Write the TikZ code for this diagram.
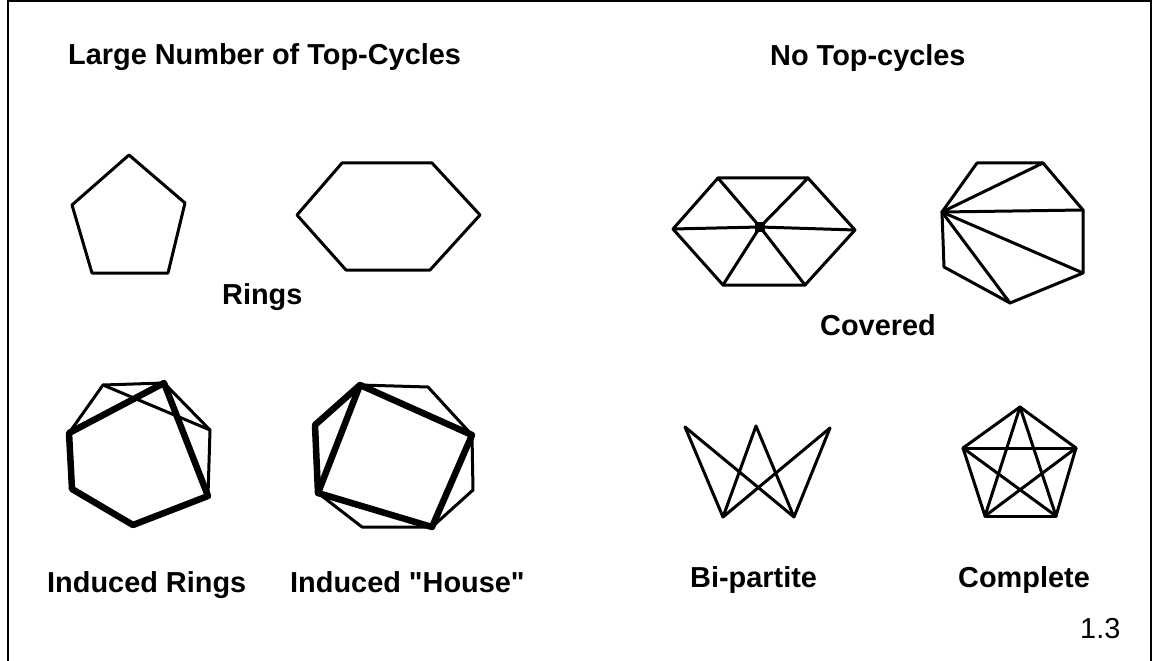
\documentclass[tikz,border=0pt]{standalone}
\usepackage{fontspec}
\setmainfont{Liberation Sans}[Ligatures=TeXOff]
\begin{document}
\begin{tikzpicture}[x=1bp,y=-1bp,
  edge/.style={line width=3bp, line join=round, line cap=round},
  bold edge/.style={line width=6.5bp, line join=round, line cap=round},
  lbl/.style={font=\bfseries\fontsize{29}{33}\selectfont, inner sep=0pt, anchor=base west},
  num/.style={font=\fontsize{29}{33}\selectfont, inner sep=0pt, anchor=base west}]
\useasboundingbox (0,0) rectangle (1159,661);
\coordinate (f1) at (8,661); \coordinate (f2) at (8,1);
\coordinate (f3) at (1151,1); \coordinate (f4) at (1151,661);
\draw[line width=2bp] (f1) -- (f2) -- (f3) -- (f4);

% titles
\node[lbl] (t1) at (68,65) {Large Number of Top-Cycles};
\node[lbl] (t2) at (770,66) {No Top-cycles};
\node[lbl] (rings) at (222,304) {Rings};
\node[lbl] (covered) at (820,335) {Covered};
\node[lbl] (ir) at (47,592) {Induced Rings};
\node[lbl] (ih) at (290,592) {Induced "House"};
\node[lbl] (bp) at (690,587) {Bi-partite};
\node[lbl] (cp) at (958,587) {Complete};
\node[num] (n13) at (1080,638) {1.3};

% pentagon ring
\coordinate (p1) at (129,155); \coordinate (p2) at (185,203);
\coordinate (p3) at (168,273); \coordinate (p4) at (92,273);
\coordinate (p5) at (72,205);
\draw[edge] (p1) -- (p2) -- (p3) -- (p4) -- (p5) -- cycle;

% hexagon ring
\coordinate (h1) at (342,163); \coordinate (h2) at (432,163);
\coordinate (h3) at (480,215); \coordinate (h4) at (430,270);
\coordinate (h5) at (346,270); \coordinate (h6) at (297,215);
\draw[edge] (h1) -- (h2) -- (h3) -- (h4) -- (h5) -- (h6) -- cycle;

% induced rings
\coordinate (a) at (103,385); \coordinate (b) at (164,383);
\coordinate (c) at (210,430); \coordinate (d) at (208,496);
\coordinate (e) at (133,525); \coordinate (f) at (72,489);
\coordinate (g) at (69,433);
\draw[edge] (g) -- (a) -- (b) -- (c) -- (d);
\draw[edge] (a) -- (c);
\draw[bold edge] (g) -- (b) -- (d) -- (e) -- (f) -- cycle;

% induced house
\coordinate (q1) at (360,385); \coordinate (q2) at (428,387);
\coordinate (q3) at (472,435); \coordinate (q4) at (473,490);
\coordinate (q5) at (432,527); \coordinate (q6) at (362,527);
\coordinate (q7) at (318,493); \coordinate (q8) at (315,425);
\draw[edge] (q1) -- (q2) -- (q3) -- (q4) -- (q5) -- (q6) -- (q7);
\draw[bold edge] (q1) -- (q3) -- (q5) -- (q7) -- cycle;
\draw[bold edge] (q1) -- (q8) -- (q7);

% covered hexagon (wheel)
\coordinate (w1) at (718,178); \coordinate (w2) at (808,178);
\coordinate (w3) at (855,230); \coordinate (w4) at (805,285);
\coordinate (w5) at (723,285); \coordinate (w6) at (673,229);
\coordinate (wc) at (760,227);
\draw[edge] (w1) -- (w2) -- (w3) -- (w4) -- (w5) -- (w6) -- cycle;
\foreach \v in {w1,w2,w3,w4,w5,w6} \draw[edge] (wc) -- (\v);
\fill (wc) ++(-5,-5) rectangle ++(10,10);

% covered heptagon (fan)
\coordinate (k1) at (977,163); \coordinate (k2) at (1043,163);
\coordinate (k3) at (1083,210); \coordinate (k4) at (1083,273);
\coordinate (k5) at (1010,303); \coordinate (k6) at (944,267);
\coordinate (k7) at (942,212);
\draw[edge] (k1) -- (k2) -- (k3) -- (k4) -- (k5) -- (k6) -- (k7) -- cycle;
\foreach \v in {k2,k3,k4,k5} \draw[edge] (k7) -- (\v);

% bipartite
\coordinate (u1) at (685,427); \coordinate (u2) at (756,426);
\coordinate (u3) at (830,428);
\coordinate (v1) at (723,517); \coordinate (v2) at (794,517);
\foreach \u in {u1,u2,u3} \foreach \v in {v1,v2} \draw[edge] (\u) -- (\v);

% complete K5
\coordinate (c1) at (1020,407); \coordinate (c2) at (1076,448);
\coordinate (c3) at (1056,516); \coordinate (c4) at (985,516);
\coordinate (c5) at (963,448);
\foreach \x/\y in {c1/c2,c1/c3,c1/c4,c1/c5,c2/c3,c2/c4,c2/c5,c3/c4,c3/c5,c4/c5}
  \draw[edge] (\x) -- (\y);
\end{tikzpicture}
\end{document}
